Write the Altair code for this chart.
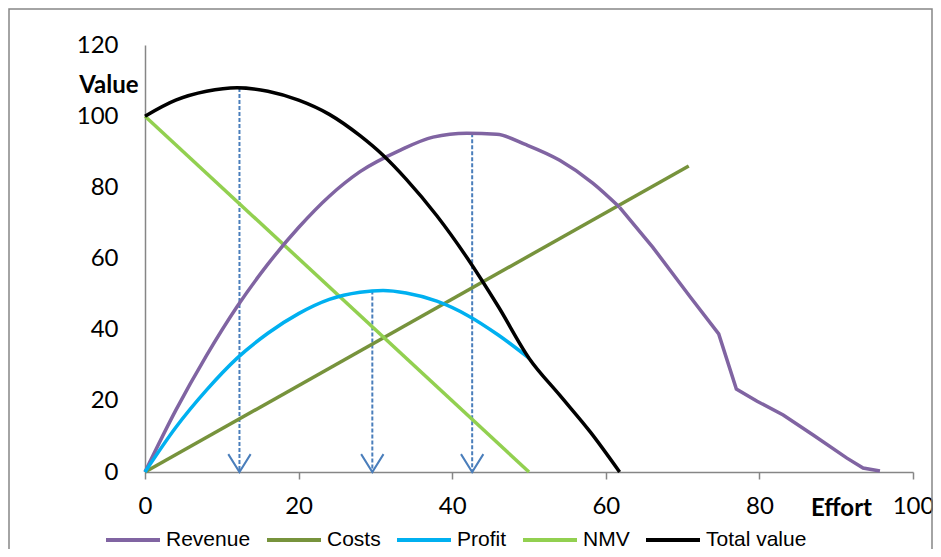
import altair as alt
import pandas as pd

# ---- data ----
series_names = ["Revenue", "Costs", "Profit", "NMV", "Total value"]
series_colors = ["#8064A2", "#77933C", "#00B0F0", "#92D050", "#000000"]

# Revenue: smooth rising part and the angular tail
rev_x = [0, 4, 8, 12, 16, 20, 24, 28, 33.2, 37.5, 41.9, 45.8, 49.7, 54, 58.3, 61.8]
rev_y = [0, 17.3, 32.7, 46.5, 58.4, 68.7, 77.5, 84.4, 90.4, 94.1, 95.2, 94.9, 91.9, 87.6,
         81.2, 74.4]
rev_tail_x = [61.8, 66.1, 71, 74.7, 77, 79.7, 83.1, 87, 91.4, 93.5, 95.7]
rev_tail_y = [74.4, 63.2, 49.2, 38.8, 23.3, 19.9, 16, 10.4, 3.9, 1.1, 0.3]

cost_x = [0, 70.8]
cost_y = [0, 86]

profit_x = [0, 4, 8, 12, 16, 20, 24, 28, 31, 34, 38, 42, 46, 50]
profit_y = [0, 12.5, 23, 32, 39, 44.5, 48.5, 50.5, 51, 50.3, 48, 44, 38.5, 32]

nmv_x = [0, 50]
nmv_y = [100, 0]

total_x = [0, 4, 8, 12, 16, 20, 24, 28, 31, 34, 38, 42, 46, 50, 54, 58, 61.8]
total_y = [100, 104.5, 107, 108, 107, 104.5, 100.5, 94.5, 89, 82.3, 72, 60, 46.5, 32,
           21.6, 11.2, 0]

arrow_x = [12.3, 29.6, 42.6]
arrow_top = [107.9, 51, 95.2]
arrow_base = [0, 0, 0]

x_ticks = [0, 20, 40, 60, 80, 100]
y_ticks = [0, 20, 40, 60, 80, 100, 120]

# ---- tables ----
def table(parts):
    rows = []
    for name, xs, ys in parts:
        for i, (xv, yv) in enumerate(zip(xs, ys)):
            rows.append({"series": name, "effort": xv, "value": yv, "idx": i})
    return pd.DataFrame(rows)

df_linear = table([("Revenue", rev_tail_x, rev_tail_y), ("Costs", cost_x, cost_y),
                   ("NMV", nmv_x, nmv_y)])
df_smooth = table([("Revenue", rev_x, rev_y), ("Profit", profit_x, profit_y),
                   ("Total value", total_x, total_y)])

df_arr = pd.DataFrame({"effort": arrow_x, "value": arrow_top, "base": arrow_base})

FONT = "Lato"
GRAY = "#868686"

x_enc = alt.X("effort:Q", scale=alt.Scale(domain=[0, 100], nice=False),
              axis=alt.Axis(values=x_ticks, title="Effort", grid=False,
                            tickSize=7, tickColor=GRAY, tickWidth=1.5,
                            domainColor=GRAY, domainWidth=1.5,
                            labelFont=FONT, labelFontSize=24, labelColor="#000",
                            labelPadding=15, labelFlush=False,
                            titleFont=FONT, titleFontSize=24, titleFontWeight="bold",
                            titleColor="#000", titleAngle=0, titleAlign="center",
                            titleBaseline="middle", titleX=696, titleY=36))
y_enc = alt.Y("value:Q", scale=alt.Scale(domain=[0, 120], nice=False),
              axis=alt.Axis(values=y_ticks, title="Value", grid=False, ticks=False,
                            domainColor=GRAY, domainWidth=1.5,
                            labelFont=FONT, labelFontSize=24, labelColor="#000",
                            labelPadding=27, labelFlush=False,
                            titleFont=FONT, titleFontSize=24, titleFontWeight="bold",
                            titleColor="#000", titleAngle=0, titleAlign="right",
                            titleBaseline="middle", titleX=-7, titleY=40))

color_enc = alt.Color("series:N",
                      scale=alt.Scale(domain=series_names, range=series_colors),
                      legend=alt.Legend(title=None, orient="none", direction="horizontal",
                                        legendX=-41, legendY=466, gridAlign="none",
                                        symbolType="stroke", symbolSize=2916,
                                        symbolStrokeWidth=4, labelFont="Liberation Sans",
                                        labelFontSize=21, labelColor="#000",
                                        labelOffset=4, columnPadding=8, padding=0))

linear_lines = alt.Chart(df_linear).mark_line(strokeWidth=3.5).encode(
    x=x_enc, y=y_enc, color=color_enc, order="idx:Q")
smooth_lines = alt.Chart(df_smooth).mark_line(strokeWidth=3.5, interpolate="monotone").encode(
    x=x_enc, y=y_enc, color=color_enc, order="idx:Q")

rules = alt.Chart(df_arr).mark_rule(strokeDash=[4, 2], strokeWidth=2, color="#4A7EBB").encode(
    x=x_enc, y=y_enc, y2="base:Q")
heads = alt.Chart(df_arr).mark_point(shape="M-1,-1.6L0,0L1,-1.6", size=500, filled=False,
                                     strokeWidth=2, color="#4A7EBB", opacity=1).encode(
    x=x_enc, y=alt.Y("base:Q", scale=alt.Scale(domain=[0, 120], nice=False)))

frame = alt.Chart(pd.DataFrame({"k": [0]})).mark_rect(
    filled=False, stroke=GRAY, strokeWidth=1.5).encode(
    x=alt.value(-136), x2=alt.value(787), y=alt.value(-36), y2=alt.value(530))

chart = alt.layer(frame, rules, heads, linear_lines, smooth_lines).properties(
    width=768, height=427,
    autosize=alt.AutoSizeParams(type="none"),
    padding={"left": 137, "top": 37, "right": 20, "bottom": 77},
).configure_view(stroke=None)

chart.save("out.html", embed_options={"renderer": "svg", "actions": False})
